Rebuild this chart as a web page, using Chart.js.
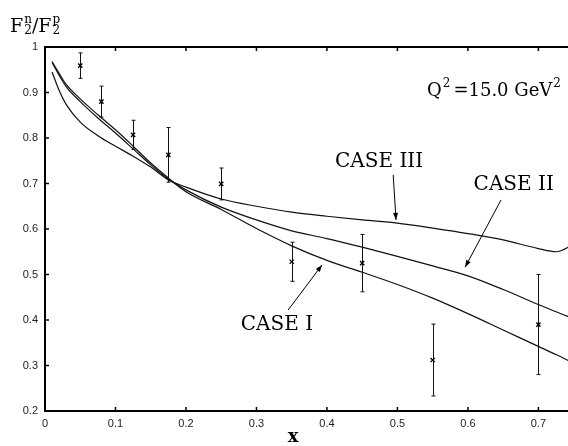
<!DOCTYPE html>
<html>
<head>
<meta charset="utf-8">
<script src="https://cdn.jsdelivr.net/npm/chart.js@4.4.1/dist/chart.umd.min.js"></script>
<style>
  html, body { margin: 0; padding: 0; background: #fff; }
</style>
</head>
<body>
<canvas id="chart" width="568" height="446"></canvas>
<script>
// x grid shared by the three model curves
const curveX = [0.01, 0.02, 0.03, 0.05, 0.075, 0.1, 0.125, 0.15, 0.175, 0.2, 0.25,
                0.3, 0.35, 0.4, 0.45, 0.5, 0.55, 0.6, 0.65, 0.7, 0.725, 0.75];
const caseI   = [0.968, 0.942, 0.918, 0.886, 0.851, 0.818, 0.782, 0.745, 0.712, 0.682, 0.643,
                 0.601, 0.563, 0.531, 0.505, 0.478, 0.448, 0.414, 0.378, 0.342, 0.324, 0.305];
const caseII  = [0.966, 0.938, 0.913, 0.880, 0.844, 0.811, 0.776, 0.741, 0.710, 0.686, 0.648,
                 0.620, 0.596, 0.579, 0.560, 0.540, 0.519, 0.497, 0.467, 0.434, 0.418, 0.403];
const caseIII = [0.945, 0.905, 0.874, 0.835, 0.805, 0.782, 0.760, 0.736, 0.708, 0.692, 0.666,
                 0.650, 0.637, 0.628, 0.620, 0.613, 0.602, 0.590, 0.576, 0.557, 0.550, 0.566];

// measured points with errors
const expX   = [0.05, 0.08, 0.125, 0.175, 0.25, 0.35, 0.45, 0.55, 0.70];
const expY   = [0.959, 0.880, 0.807, 0.763, 0.699, 0.528, 0.525, 0.312, 0.390];
const expErr = [0.028, 0.034, 0.032, 0.060, 0.035, 0.043, 0.063, 0.079, 0.110];

const xTicks = [0, 0.1, 0.2, 0.3, 0.4, 0.5, 0.6, 0.7];
const yTicks = [0.2, 0.3, 0.4, 0.5, 0.6, 0.7, 0.8, 0.9, 1];

const pts = (xs, ys) => xs.map((x, i) => ({ x: x, y: ys[i] }));
const fmt = v => String(+v.toFixed(1));

const serif = '"DejaVu Serif", "Liberation Serif", serif';

function arrow(ctx, x0, y0, x1, y1) {
    ctx.beginPath();
    ctx.moveTo(x0, y0);
    ctx.lineTo(x1, y1);
    ctx.stroke();
    const a = Math.atan2(y1 - y0, x1 - x0);
    const len = 7, w = 2.5;
    ctx.beginPath();
    ctx.moveTo(x1, y1);
    ctx.lineTo(x1 - len * Math.cos(a) + w * Math.sin(a), y1 - len * Math.sin(a) - w * Math.cos(a));
    ctx.lineTo(x1 - len * Math.cos(a) - w * Math.sin(a), y1 - len * Math.sin(a) + w * Math.cos(a));
    ctx.closePath();
    ctx.fill();
}

// draws text with a stacked superscript / subscript after a base glyph
function supSub(ctx, x, y, base, sup, sub, big, small) {
    ctx.font = big + 'px ' + serif;
    ctx.fillText(base, x, y);
    x += ctx.measureText(base).width + 1;
    ctx.font = small + 'px ' + serif;
    let w = 0;
    if (sup) { ctx.fillText(sup, x, y - big * 0.5); w = Math.max(w, ctx.measureText(sup).width); }
    if (sub) { ctx.fillText(sub, x, y + big * 0.12); w = Math.max(w, ctx.measureText(sub).width); }
    return x + w;
}

const decorations = {
    id: 'decorations',
    beforeDatasetsDraw(chart) {
        const ctx = chart.ctx, xs = chart.scales.x, ys = chart.scales.y;
        ctx.save();
        ctx.strokeStyle = '#111';
        ctx.lineWidth = 1;
        expX.forEach((x, i) => {
            const px = Math.round(xs.getPixelForValue(x)) + 0.5;
            const top = ys.getPixelForValue(expY[i] + expErr[i]);
            const bot = ys.getPixelForValue(expY[i] - expErr[i]);
            ctx.beginPath();
            ctx.moveTo(px, top); ctx.lineTo(px, bot);
            ctx.moveTo(px - 2, top); ctx.lineTo(px + 2, top);
            ctx.moveTo(px - 2, bot); ctx.lineTo(px + 2, bot);
            ctx.stroke();
        });
        ctx.restore();
    },
    afterDraw(chart) {
        const ctx = chart.ctx, a = chart.chartArea;
        const xs = chart.scales.x, ys = chart.scales.y;
        const X = v => xs.getPixelForValue(v), Y = v => ys.getPixelForValue(v);
        ctx.save();
        ctx.strokeStyle = '#000';
        ctx.fillStyle = '#000';

        // frame: left, bottom, top
        ctx.lineWidth = 2;
        ctx.beginPath();
        ctx.moveTo(a.right, a.top); ctx.lineTo(a.left, a.top);
        ctx.lineTo(a.left, a.bottom); ctx.lineTo(a.right, a.bottom);
        ctx.stroke();

        // inward tick marks
        ctx.lineWidth = 1.5;
        ctx.beginPath();
        xTicks.slice(1).forEach(v => {
            const px = X(v);
            ctx.moveTo(px, a.bottom); ctx.lineTo(px, a.bottom - 4);
            ctx.moveTo(px, a.top); ctx.lineTo(px, a.top + 4);
        });
        yTicks.slice(1, -1).forEach(v => {
            const py = Y(v);
            ctx.moveTo(a.left, py); ctx.lineTo(a.left + 4, py);
        });
        ctx.stroke();

        // curve labels with arrows
        ctx.font = '20px ' + serif;
        ctx.textAlign = 'center';
        ctx.textBaseline = 'middle';
        ctx.fillText('CASE III', X(0.474), Y(0.747));
        ctx.fillText('CASE II', X(0.665), Y(0.697));
        ctx.fillText('CASE I', X(0.329), Y(0.389));
        ctx.lineWidth = 1;
        arrow(ctx, X(0.494), Y(0.719), X(0.498), Y(0.620));
        arrow(ctx, X(0.647), Y(0.664), X(0.596), Y(0.516));
        arrow(ctx, X(0.345), Y(0.422), X(0.393), Y(0.521));

        // Q^2 label
        ctx.textAlign = 'left';
        ctx.textBaseline = 'alphabetic';
        let qx = supSub(ctx, 427, 96, 'Q', '2', null, 18, 12) + 3;
        ctx.font = '18px ' + serif;
        ctx.fillText('=15.0 GeV', qx, 96);
        qx += ctx.measureText('=15.0 GeV').width + 1;
        ctx.font = '12px ' + serif;
        ctx.fillText('2', qx, 96 - 18 * 0.5);

        // y title F2n/F2p
        let tx = supSub(ctx, 10, 32, 'F', 'n', '2', 19, 12);
        ctx.font = '19px ' + serif;
        ctx.fillText('/', tx, 32);
        tx += ctx.measureText('/').width;
        supSub(ctx, tx, 32, 'F', 'p', '2', 19, 12);

        // x title
        ctx.font = 'bold 18px ' + serif;
        ctx.textAlign = 'center';
        ctx.fillText('x', 293, 442);
        ctx.restore();
    }
};

const lineStyle = {
    showLine: true,
    pointRadius: 0,
    borderColor: '#111',
    borderWidth: 1.2,
    cubicInterpolationMode: 'monotone',
    fill: false
};

new Chart(document.getElementById('chart'), {
    type: 'scatter',
    data: {
        datasets: [
            Object.assign({ label: 'CASE I', data: pts(curveX, caseI) }, lineStyle),
            Object.assign({ label: 'CASE II', data: pts(curveX, caseII) }, lineStyle),
            Object.assign({ label: 'CASE III', data: pts(curveX, caseIII) }, lineStyle),
            {
                label: 'data',
                data: pts(expX, expY),
                pointStyle: 'crossRot',
                pointRadius: 3,
                borderColor: '#000',
                borderWidth: 1.3
            }
        ]
    },
    plugins: [decorations],
    options: {
        responsive: false,
        animation: false,
        layout: { autoPadding: false, padding: { top: 47, right: 0, bottom: 0, left: 0 } },
        plugins: {
            legend: { display: false },
            tooltip: { enabled: false }
        },
        scales: {
            x: {
                type: 'linear',
                min: 0,
                max: 0.742,
                grid: { display: false, drawTicks: false },
                border: { display: false },
                afterFit: s => { s.height = 35; s.paddingLeft = 0; s.paddingRight = 0; },
                afterBuildTicks: s => { s.ticks = xTicks.map(v => ({ value: v })); },
                ticks: {
                    padding: 6,
                    maxRotation: 0,
                    autoSkip: false,
                    color: '#222',
                    font: { family: '"Liberation Sans", Arial, sans-serif', size: 11 },
                    callback: v => fmt(v)
                }
            },
            y: {
                type: 'linear',
                min: 0.2,
                max: 1,
                grid: { display: false, drawTicks: false },
                border: { display: false },
                afterFit: s => { s.width = 45; s.paddingTop = 0; s.paddingBottom = 0; },
                afterBuildTicks: s => { s.ticks = yTicks.map(v => ({ value: v })); },
                ticks: {
                    padding: 7,
                    color: '#222',
                    font: { family: '"Liberation Sans", Arial, sans-serif', size: 11 },
                    callback: v => fmt(v)
                }
            }
        }
    }
});
</script>
</body>
</html>
